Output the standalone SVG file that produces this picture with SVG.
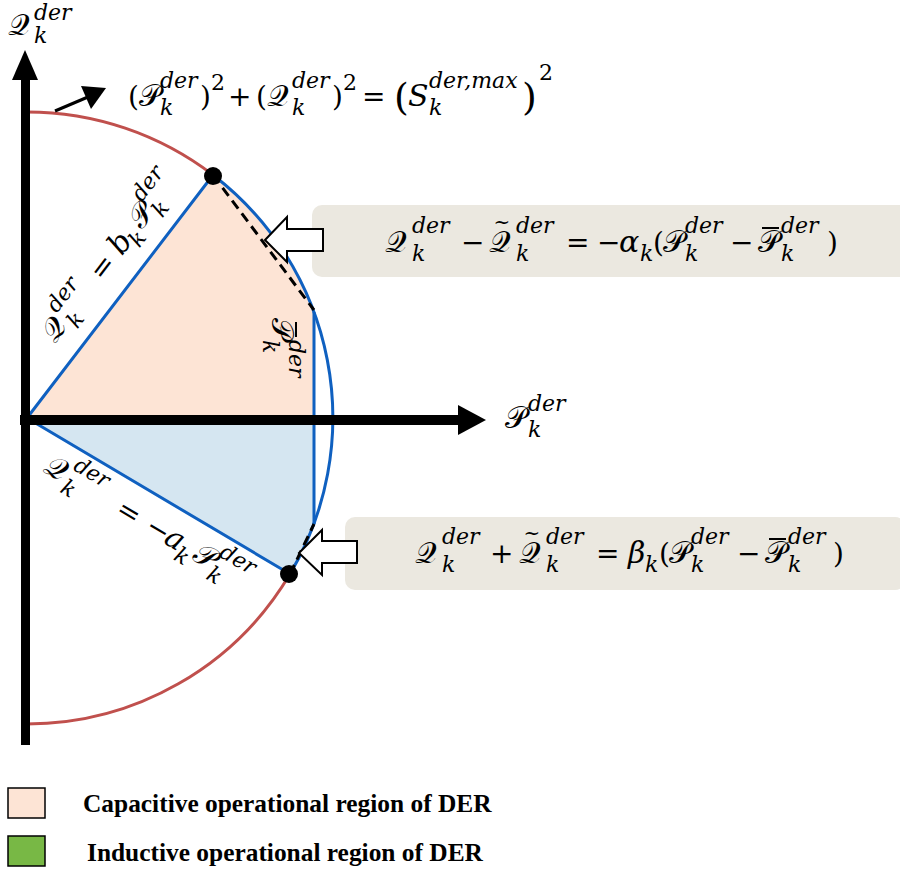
<svg xmlns="http://www.w3.org/2000/svg" width="900" height="871" viewBox="0 0 900 871">
<style>
.m{font-family:"DejaVu Serif","Liberation Serif",serif;font-style:italic;font-size:30px;fill:#000}
.o{font-style:normal;font-size:28px}
.c{font-style:normal}
.s{font-size:22px}
.acc{font-family:"DejaVu Serif",serif;font-size:20px;text-anchor:middle;fill:#000}
.bar{stroke:#000;stroke-width:2}
.lg{font-family:"Liberation Serif",serif;font-weight:bold;font-size:25.4px;fill:#000}
.blue{fill:none;stroke:#0f60c0;stroke-width:3}
.red{fill:none;stroke:#c0504d;stroke-width:3}
.dash{fill:none;stroke:#000;stroke-width:3;stroke-dasharray:10 6}
.warr{fill:#fff;stroke:#000;stroke-width:2}
.box{fill:#ebe8e0}
</style>
<g id="regions">
<path d="M27,418 L213,175 A306,306 0 0 1 314,312 L314,418 Z" fill="#fde4d5"/>
<path d="M27,418 L314,418 L314,524 A306,306 0 0 1 290,574 Z" fill="#d5e6f1"/>
</g>
<g id="connectors">
<path class="red" d="M27,112 A306,306 0 0 1 213,175"/>
<path class="red" d="M290,574 A306,306 0 0 1 27,724"/>
<path class="blue" d="M213,175 A306,306 0 0 1 290,574"/>
<path class="blue" d="M27,418 L213,175 M27,418 L290,574 M314,312 L314,524"/>
<path class="dash" d="M213,175 L314,310"/>
<path class="dash" d="M290,574 L314,524"/>
<rect x="21" y="78" width="9" height="667" fill="#000"/>
<polygon points="25,50 12,80 38,80" fill="#000"/>
<rect x="20" y="415" width="440" height="10" fill="#000"/>
<polygon points="486,420 458,405 458,435" fill="#000"/>
<line x1="55" y1="111" x2="95" y2="94" stroke="#000" stroke-width="3"/>
<polygon points="106,88 81,86 91,109" fill="#000"/>
<circle cx="213" cy="176" r="9" fill="#000"/>
<circle cx="289" cy="574" r="9" fill="#000"/>
</g>
<g id="box1">
<rect class="box" x="312" y="205" width="600" height="72" rx="10"/>
<polygon class="warr" points="265,240 287,217 287,229 323,229 323,251 287,251 287,262"/>
<text class="m" y="252"><tspan class="c" x="385">𝒬</tspan><tspan class="s" x="412" y="233">der</tspan><tspan class="s" x="412" y="261">k</tspan><tspan class="o" x="461" y="252">−</tspan><tspan class="c" x="489">𝒬</tspan><tspan class="s" x="516" y="233">der</tspan><tspan class="s" x="516" y="261">k</tspan><tspan class="o" x="566" y="252">=</tspan><tspan class="o" x="597">−</tspan><tspan x="619">α</tspan><tspan class="s" x="640" y="261">k</tspan><tspan class="o" x="653" y="252">(</tspan><tspan class="c" x="663">𝒫</tspan><tspan class="s" x="685" y="233">der</tspan><tspan class="s" x="685" y="261">k</tspan><tspan class="o" x="730" y="252">−</tspan><tspan class="c" x="758">𝒫</tspan><tspan class="s" x="781" y="233">der</tspan><tspan class="s" x="781" y="261">k</tspan><tspan class="o" x="827" y="252">)</tspan></text>
<text class="acc" x="502" y="229">~</text>
<line class="bar" x1="762" y1="228" x2="779" y2="228"/>
</g>
<g id="box2">
<rect class="box" x="345" y="517" width="560" height="73" rx="10"/>
<polygon class="warr" points="299,553 322,530 322,541 357,541 357,563 322,563 322,575"/>
<text class="m" y="563"><tspan class="c" x="415">𝒬</tspan><tspan class="s" x="442" y="544">der</tspan><tspan class="s" x="442" y="572">k</tspan><tspan class="o" x="490" y="563">+</tspan><tspan class="c" x="519">𝒬</tspan><tspan class="s" x="546" y="544">der</tspan><tspan class="s" x="546" y="572">k</tspan><tspan class="o" x="596" y="563">=</tspan><tspan x="628">β</tspan><tspan class="s" x="645" y="572">k</tspan><tspan class="o" x="659" y="563">(</tspan><tspan class="c" x="669">𝒫</tspan><tspan class="s" x="691" y="544">der</tspan><tspan class="s" x="691" y="572">k</tspan><tspan class="o" x="737" y="563">−</tspan><tspan class="c" x="765">𝒫</tspan><tspan class="s" x="788" y="544">der</tspan><tspan class="s" x="788" y="572">k</tspan><tspan class="o" x="833" y="563">)</tspan></text>
<text class="acc" x="532" y="540">~</text>
<line class="bar" x1="769" y1="539" x2="786" y2="539"/>
</g>
<g id="circle-eq">
<text class="m" y="106"><tspan class="o" x="128">(</tspan><tspan class="c" x="139">𝒫</tspan><tspan class="s" x="160" y="88">der</tspan><tspan class="s" x="160" y="115">k</tspan><tspan class="o" x="200" y="106">)</tspan><tspan class="o s" x="211" y="90">2</tspan><tspan class="o" x="228" y="106">+</tspan><tspan class="o" x="256">(</tspan><tspan class="c" x="267">𝒬</tspan><tspan class="s" x="292" y="88">der</tspan><tspan class="s" x="292" y="115">k</tspan><tspan class="o" x="332" y="106">)</tspan><tspan class="o s" x="343" y="90">2</tspan><tspan class="o" x="362" y="106">=</tspan><tspan class="o" x="394" y="110" style="font-size:38px">(</tspan><tspan x="408" y="106">S</tspan><tspan class="s" x="429" y="88">der,max</tspan><tspan class="s" x="429" y="115">k</tspan><tspan class="o" x="522" y="110" style="font-size:38px">)</tspan><tspan class="o s" x="539" y="80">2</tspan></text>
</g>
<g id="axis-labels">
<text class="m" y="35"><tspan class="c" x="8">𝒬</tspan><tspan class="s" x="34" y="20">der</tspan><tspan class="s" x="34" y="43">k</tspan></text>
<text class="m" y="428"><tspan class="c" x="505">𝒫</tspan><tspan class="s" x="528" y="411">der</tspan><tspan class="s" x="528" y="437">k</tspan></text>
</g>
<g id="line-labels">
<g transform="translate(55,344) rotate(-52.6)"><text class="m" y="0"><tspan class="c" x="0">𝒬</tspan><tspan class="s" x="25" y="-17">der</tspan><tspan class="s" x="25" y="9">k</tspan><tspan class="o" x="78" y="0">=</tspan><tspan x="110">b</tspan><tspan class="s" x="127" y="9">k</tspan><tspan class="c" x="143" y="0">𝒫</tspan><tspan class="s" x="165" y="-17">der</tspan><tspan class="s" x="165" y="9">k</tspan></text></g>
<g transform="translate(42,471) rotate(30.7)"><text class="m" y="0"><tspan class="c" x="0">𝒬</tspan><tspan class="s" x="25" y="-17">der</tspan><tspan class="s" x="25" y="9">k</tspan><tspan class="o" x="84" y="0">=</tspan><tspan class="o" x="118">−</tspan><tspan x="140">a</tspan><tspan class="s" x="157" y="9">k</tspan><tspan class="c" x="173" y="0">𝒫</tspan><tspan class="s" x="195" y="-17">der</tspan><tspan class="s" x="195" y="9">k</tspan></text></g>
<g transform="translate(272,318) rotate(90)"><text class="m" y="0"><tspan class="c" x="0">𝒫</tspan><tspan class="s" x="22" y="-17">der</tspan><tspan class="s" x="22" y="9">k</tspan></text><line class="bar" x1="4" y1="-24" x2="19" y2="-24"/></g>
</g>
<g id="legend">
<rect x="8" y="788" width="37" height="30" fill="#fde4d5" stroke="#000" stroke-width="1.5"/>
<rect x="8" y="836" width="37" height="30" fill="#78b845" stroke="#000" stroke-width="1.5"/>
<text class="lg" x="83" y="812">Capacitive operational region of DER</text>
<text class="lg" x="87" y="861">Inductive operational region of DER</text>
</g>
</svg>
